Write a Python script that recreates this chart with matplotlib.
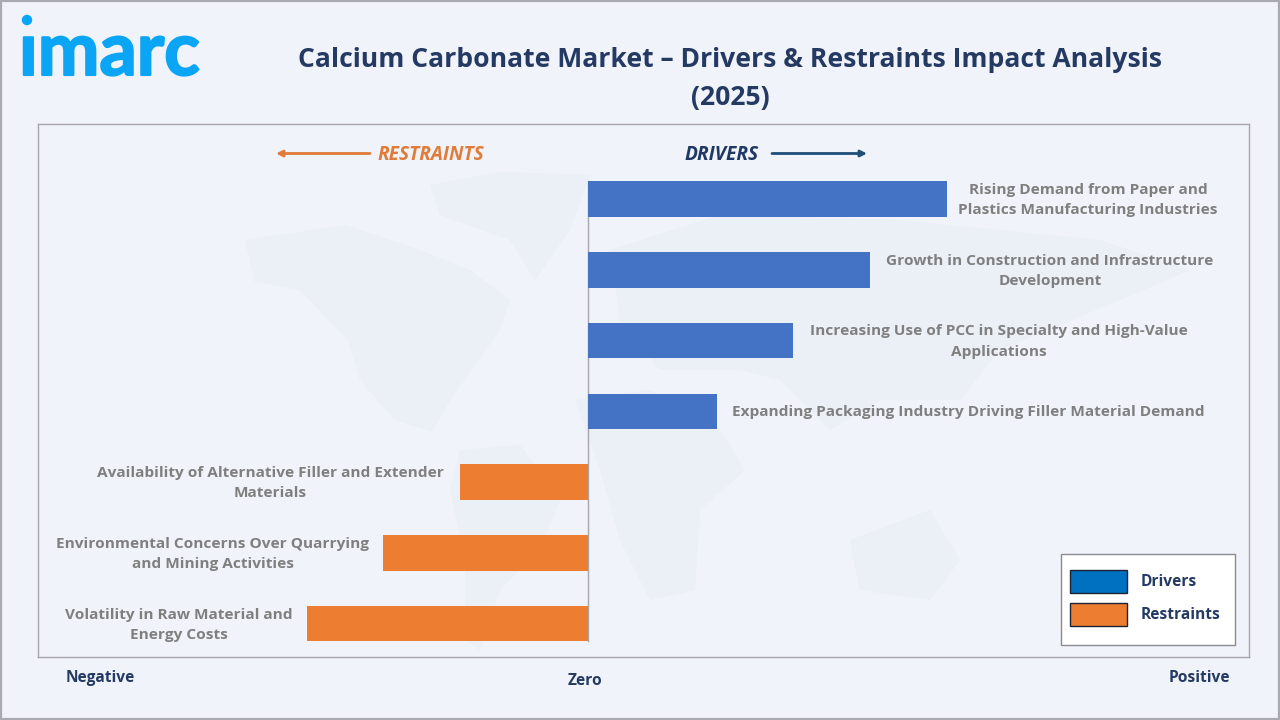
import matplotlib
matplotlib.use("Agg")
import matplotlib.pyplot as plt
import matplotlib.patheffects as pe
from matplotlib.patches import Polygon, Rectangle, FancyArrowPatch, Circle
from matplotlib.transforms import IdentityTransform

W, H = 1280, 720
BG = "#f0f3f9"
NAVY = "#253a63"
GREY = "#7f7f7f"
BLUE = "#4472c4"
ORANGE = "#ed7d31"
FONT = ["Open Sans", "DejaVu Sans"]

categories = [
    "Rising Demand from Paper and\nPlastics Manufacturing Industries",
    "Growth in Construction and Infrastructure\nDevelopment",
    "Increasing Use of PCC in Specialty and High-Value\nApplications",
    "Expanding Packaging Industry Driving Filler Material Demand",
    "Availability of Alternative Filler and Extender\nMaterials",
    "Environmental Concerns Over Quarrying\nand Mining Activities",
    "Volatility in Raw Material and\nEnergy Costs",
]
impact = [359, 282, 205, 129, -128, -205, -281]
label_centres = [1088, 1050, 999, 968, 270, 213, 179]

plt.rcParams["font.family"] = FONT

fig = plt.figure(figsize=(W / 100, H / 100), dpi=100, facecolor=BG)


def fx(x):
    return x / W


def fy(y):
    return 1 - y / H


# outer picture frame
fig.add_artist(Rectangle((0, 0), 1, 1, transform=fig.transFigure, fill=False,
                         ec="#a9a9b0", lw=3))

# plot box, x axis runs in the same unit as the values
ax = fig.add_axes([fx(38), fy(657), (1249 - 38) / W, (657 - 124) / H])
ax.set_facecolor(BG)
ax.set_xlim(-550, 661)
ax.set_ylim(6.47, -1.06)
ax.set_xticks([])
ax.set_yticks([])
for s in ax.spines.values():
    s.set_color("#a6a6ac")
    s.set_linewidth(1)

# faint world map behind the bars, rough outlines in picture pixels
land = [
    [(245, 240), (345, 225), (420, 250), (470, 270), (510, 300), (500, 330), (450, 400),
     (432, 432), (395, 420), (360, 380), (348, 340), (300, 290), (255, 282)],
    [(430, 185), (500, 172), (590, 175), (570, 230), (535, 280), (510, 240), (440, 215)],
    [(460, 450), (520, 445), (560, 500), (540, 550), (500, 590), (480, 650), (465, 640),
     (465, 560), (450, 490)],
    [(575, 400), (650, 390), (720, 430), (745, 470), (700, 510), (695, 590), (650, 600),
     (620, 540), (600, 470)],
    [(610, 250), (720, 215), (900, 220), (1100, 240), (1190, 270), (1120, 300), (1000, 350),
     (960, 400), (880, 400), (830, 430), (780, 380), (740, 370), (660, 370), (620, 320)],
    [(850, 540), (930, 510), (960, 560), (930, 600), (860, 590)],
]
for shape in land:
    ax.add_patch(Polygon([(fx(x), fy(y)) for x, y in shape], closed=True,
                         transform=fig.transFigure, fc="#ebeff6", ec="none", zorder=0.5))

colors = [BLUE if v > 0 else ORANGE for v in impact]
ax.barh(range(len(impact)), impact, height=0.5, color=colors, zorder=2)
ax.plot([0, 0], [-0.25, 6.25], color="#a6a6ac", lw=1, zorder=1)

for i, name in enumerate(categories):
    ax.annotate(name, xy=(0, i), xycoords=("data", "data"),
                xytext=(fx(label_centres[i]), i + 0.015),
                textcoords=(fig.transFigure, "data"),
                ha="center", va="center", color=GREY, fontsize=11.1,
                fontweight="bold", linespacing=1.58, zorder=3)

# title and logo
fig.text(fx(730), fy(79), "Calcium Carbonate Market – Drivers & Restraints Impact Analysis\n(2025)",
         ha="center", va="center", fontsize=19.1, fontweight="bold", color=NAVY,
         linespacing=1.57)
fig.text(fx(19), fy(75), "ımarc", ha="left", va="baseline", fontsize=53, fontweight="bold",
         color="#0aa5f5", family=["Lato", "DejaVu Sans"],
         path_effects=[pe.withStroke(linewidth=1.5, foreground="#0aa5f5")])
fig.add_artist(Circle((27, H - 20), 4.5, color="#0aa5f5", transform=IdentityTransform()))

# direction arrows
for x0, x1, c in [(370, 276, "#e07b39"), (772, 867, "#1f4e79")]:
    fig.add_artist(FancyArrowPatch((fx(x0), fy(153.5)), (fx(x1), fy(153.5)),
                                   transform=fig.transFigure, arrowstyle="-|>",
                                   mutation_scale=9, color=c, lw=2, shrinkA=0, shrinkB=0))
fig.text(fx(431), fy(155), "RESTRAINTS", ha="center", va="center", fontsize=13.8,
         fontweight="bold", style="italic", color="#e07b39")
fig.text(fx(722), fy(155), "DRIVERS", ha="center", va="center", fontsize=13.8,
         fontweight="bold", style="italic", color="#1f3864")

# axis end labels
for x, y, t in [(100, 678, "Negative"), (585, 681, "Zero"), (1199, 678, "Positive")]:
    fig.text(fx(x), fy(y), t, ha="center", va="center", fontsize=11.2,
             fontweight="bold", color=NAVY)

# legend box
fig.add_artist(Rectangle((fx(1061), fy(645)), 174 / W, 91 / H, transform=fig.transFigure,
                         fc="white", ec="#8a8a90", lw=1, zorder=5))
for y, c, t in [(581, "#0070c0", "Drivers"), (614, ORANGE, "Restraints")]:
    fig.add_artist(Rectangle((fx(1070), fy(y + 11.5)), 57 / W, 23 / H,
                             transform=fig.transFigure, fc=c, ec="#1b2433", lw=1, zorder=6))
    fig.text(fx(1141), fy(y + 1), t, ha="left", va="center", fontsize=11.2,
             fontweight="bold", color=NAVY, zorder=6)

fig.savefig("out.png", dpi=100, facecolor=BG)
